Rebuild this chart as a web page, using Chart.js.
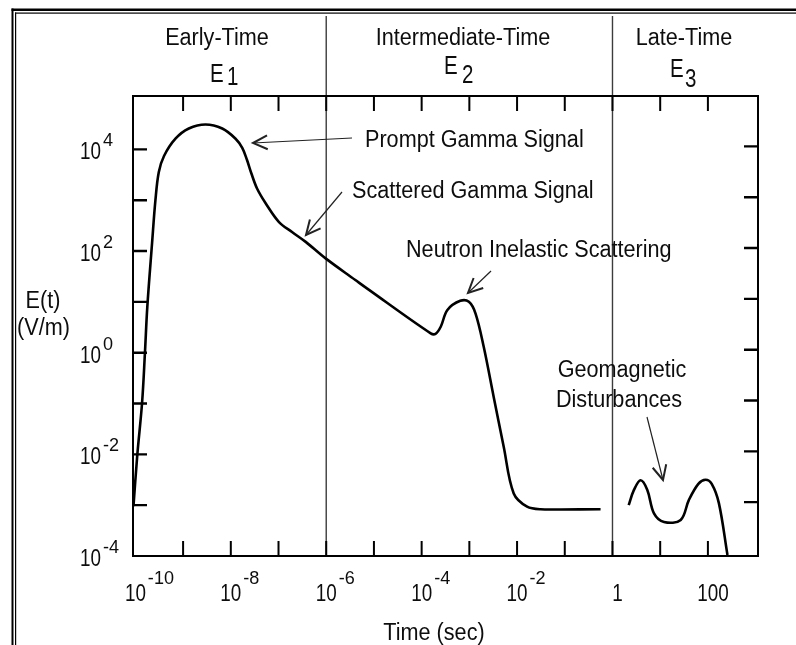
<!DOCTYPE html>
<html>
<head>
<meta charset="utf-8">
<script src="https://cdn.jsdelivr.net/npm/chart.js@4.4.1/dist/chart.umd.min.js"></script>
<style>
  html, body { margin: 0; padding: 0; background: #fff; }
  canvas { display: block; }
</style>
</head>
<body>
<canvas id="empChart" width="796" height="645"></canvas>
<script>
// ===============================
// Data (log10 values)
// ===============================
// E1 + E2 curve: log10(time, s) and log10(E, V/m)
const earlyTimeExp = [-10.04, -9.96, -9.86, -9.80, -9.75, -9.65, -9.58, -9.51, -9.40,
  -9.16, -8.88, -8.53, -8.18, -7.90, -7.76, -7.66, -7.57, -7.45, -7.27, -6.99, -6.71,
  -6.43, -6.02, -5.39, -5.14, -3.81, -3.71, -3.60, -3.46, -3.19,
  -3.01, -2.87, -2.70, -2.49, -2.28, -2.07, -1.79, -1.51, -0.25];
const earlyFieldExp = [-3.02, -2.01, -0.99, -0.01, 0.90, 2.16, 3.00, 3.55, 3.87,
  4.21, 4.41, 4.49, 4.41, 4.21, 4.03, 3.79, 3.53, 3.23, 2.94, 2.57, 2.37,
  2.18, 1.86, 1.43, 1.26, 0.38, 0.37, 0.51, 0.84, 1.02,
  1.00, 0.77, 0.12, -0.87, -1.85, -2.77, -3.03, -3.08, -3.08];

// E3 curve (geomagnetic)
const lateTimeExp = [0.34, 0.45, 0.59, 0.73, 0.87, 1.08, 1.43, 1.60, 1.80, 1.95, 2.08, 2.23, 2.41];
const lateFieldExp = [-3.00, -2.70, -2.51, -2.70, -3.16, -3.33, -3.29, -2.90, -2.58, -2.50, -2.58, -2.96, -3.98];

// axis limits (log10)
const xMinExp = -10.05, xMaxExp = 3.05;
const yMinExp = -4, yMaxExp = 5.05;

// ticks
const xMarkExp = [-9, -8, -7, -6, -5, -4, -3, -2, -1, 0, 1, 2];
const yMarkExp = [-3, -2, -1, 0, 1, 2, 3, 4];
const xLabelExp = [-10, -8, -6, -4, -2, 0, 2];
const xLabelText = ['10^-10', '10^-8', '10^-6', '10^-4', '10^-2', '1', '100'];
const yLabelExp = [4, 2, 0, -2, -4];
const yLabelText = ['10^4', '10^2', '10^0', '10^-2', '10^-4'];

// time regions
const regionEdgeExp = [-6, 0];
const regionNames = ['Early-Time', 'Intermediate-Time', 'Late-Time'];
const regionSubs = ['1', '2', '3'];

const toPoints = (tx, ey) => tx.map((t, i) => ({ x: Math.pow(10, t), y: Math.pow(10, ey[i]) }));

// ===============================
// Helpers for text
// ===============================
const FONT = '"Liberation Sans", Arial, Helvetica, sans-serif';
const INK = '#0d0d0d';

function txt(ctx, s, x, y, size, align, sx) {
  ctx.save();
  ctx.font = size + 'px ' + FONT;
  ctx.fillStyle = INK;
  ctx.textAlign = align || 'left';
  ctx.textBaseline = 'alphabetic';
  ctx.translate(x, y);
  ctx.scale(sx || 0.92, 1);
  ctx.fillText(s, 0, 0);
  ctx.restore();
}

function txtWidth(ctx, s, size, sx) {
  ctx.save();
  ctx.font = size + 'px ' + FONT;
  const w = ctx.measureText(s).width * (sx || 0.92);
  ctx.restore();
  return w;
}

// "10^-4" -> 10 with raised exponent
function powLabel(ctx, label, x, y, mode) {
  const parts = label.split('^');
  const bSize = 23, bSx = 0.82, eSize = 19, eSx = 0.95;
  const bw = txtWidth(ctx, parts[0], bSize, bSx);
  let left = mode === 'center' ? x - bw / 2 : x;
  if (parts.length === 1) {
    txt(ctx, parts[0], left + 5, y, bSize, 'left', bSx);
    return;
  }
  txt(ctx, parts[0], left, y, bSize, 'left', bSx);
  txt(ctx, parts[1], left + bw + 2, y - (mode === 'center' ? 17 : 13), eSize, 'left', eSx);
}

function arrow(ctx, x1, y1, x2, y2) {
  ctx.save();
  ctx.strokeStyle = '#222';
  ctx.lineWidth = 1.2;
  ctx.beginPath();
  ctx.moveTo(x1, y1);
  ctx.lineTo(x2, y2);
  ctx.stroke();
  const a = Math.atan2(y1 - y2, x1 - x2);
  const len = 16, spread = 0.45;
  ctx.lineWidth = 2;
  ctx.beginPath();
  ctx.moveTo(x2 + len * Math.cos(a + spread), y2 + len * Math.sin(a + spread));
  ctx.lineTo(x2, y2);
  ctx.lineTo(x2 + len * Math.cos(a - spread), y2 + len * Math.sin(a - spread));
  ctx.stroke();
  ctx.restore();
}

// ===============================
// Plugin: frame, box, ticks, labels, notes
// ===============================
const overlay = {
  id: 'overlay',
  beforeDatasetsDraw(chart) {
    const { ctx, chartArea: a, scales: { x } } = chart;
    ctx.save();
    // double page frame (top + left)
    ctx.fillStyle = '#000';
    ctx.fillRect(11.5, 8.5, 790, 2.5);
    ctx.fillRect(11.5, 8.5, 2, 640);
    ctx.fillRect(15, 12.5, 790, 1.2);
    ctx.fillRect(15, 12.5, 1.2, 640);
    // region dividers
    ctx.strokeStyle = '#3c3c3c';
    ctx.lineWidth = 1.4;
    regionEdgeExp.forEach(e => {
      const px = x.getPixelForValue(Math.pow(10, e));
      ctx.beginPath();
      ctx.moveTo(px, 16);
      ctx.lineTo(px, a.bottom);
      ctx.stroke();
    });
    ctx.restore();
  },
  afterDraw(chart) {
    const { ctx, chartArea: a, scales: { x, y } } = chart;
    ctx.save();
    // plot box
    ctx.strokeStyle = '#000';
    ctx.lineWidth = 2;
    ctx.strokeRect(a.left, a.top, a.right - a.left, a.bottom - a.top);

    // tick marks inside the box
    ctx.lineWidth = 2;
    xMarkExp.forEach(e => {
      const px = x.getPixelForValue(Math.pow(10, e));
      ctx.beginPath();
      ctx.moveTo(px, a.bottom); ctx.lineTo(px, a.bottom - 15);
      ctx.moveTo(px, a.top); ctx.lineTo(px, a.top + 15);
      ctx.stroke();
    });
    ctx.lineWidth = 2.4;
    yMarkExp.forEach(e => {
      const py = y.getPixelForValue(Math.pow(10, e));
      ctx.beginPath();
      ctx.moveTo(a.left, py); ctx.lineTo(a.left + 14, py);
      ctx.moveTo(a.right, py - 3); ctx.lineTo(a.right - 14, py - 3);
      ctx.stroke();
    });
    ctx.restore();

    // tick labels
    xLabelExp.forEach((e, i) => {
      const px = x.getPixelForValue(Math.pow(10, e));
      powLabel(ctx, xLabelText[i], px, 601, 'center');
    });
    yLabelExp.forEach((e, i) => {
      const py = y.getPixelForValue(Math.pow(10, e));
      powLabel(ctx, yLabelText[i], 80, py + 10, 'left');
    });

    // axis titles
    txt(ctx, 'E(t)', 43, 308, 23.5, 'center');
    txt(ctx, '(V/m)', 43.5, 335, 23.5, 'center');
    txt(ctx, 'Time (sec)', 434, 640, 23.5, 'center');

    // region headers
    const headX = [217, 463, 684];
    const subE = [[210, 82, 227, 85], [444, 74, 462, 83], [670, 77, 685, 87]];
    regionNames.forEach((n, i) => {
      txt(ctx, n, headX[i], 45, 23.5, 'center');
      txt(ctx, 'E', subE[i][0], subE[i][1], 25, 'left', 0.82);
      txt(ctx, regionSubs[i], subE[i][2], subE[i][3], 25, 'left', 0.82);
    });

    // annotations
    txt(ctx, 'Prompt Gamma Signal', 365, 147, 23.5, 'left');
    arrow(ctx, 352, 138, 253, 143);
    txt(ctx, 'Scattered Gamma Signal', 352, 198, 23.5, 'left');
    arrow(ctx, 342, 192, 306, 235);
    txt(ctx, 'Neutron Inelastic Scattering', 406, 257, 23.5, 'left');
    arrow(ctx, 491, 271, 468, 293);
    txt(ctx, 'Geomagnetic', 622, 377, 23.5, 'center');
    txt(ctx, 'Disturbances', 619, 407, 23.5, 'center');
    arrow(ctx, 647, 417, 663, 480);
  }
};

// ===============================
// Chart
// ===============================
new Chart(document.getElementById('empChart'), {
  type: 'line',
  data: {
    datasets: [
      {
        label: 'E1/E2',
        data: toPoints(earlyTimeExp, earlyFieldExp),
        borderColor: '#000',
        borderWidth: 2.6,
        pointRadius: 0,
        fill: false,
        tension: 0.35
      },
      {
        label: 'E3',
        data: toPoints(lateTimeExp, lateFieldExp),
        borderColor: '#000',
        borderWidth: 2.6,
        pointRadius: 0,
        fill: false,
        tension: 0.35
      }
    ]
  },
  options: {
    responsive: false,
    animation: false,
    layout: { padding: { left: 133, right: 38, top: 96, bottom: 89 } },
    plugins: { legend: { display: false }, tooltip: { enabled: false } },
    scales: {
      x: { type: 'logarithmic', display: false, min: Math.pow(10, xMinExp), max: Math.pow(10, xMaxExp) },
      y: { type: 'logarithmic', display: false, min: Math.pow(10, yMinExp), max: Math.pow(10, yMaxExp) }
    }
  },
  plugins: [overlay]
});
</script>
</body>
</html>
